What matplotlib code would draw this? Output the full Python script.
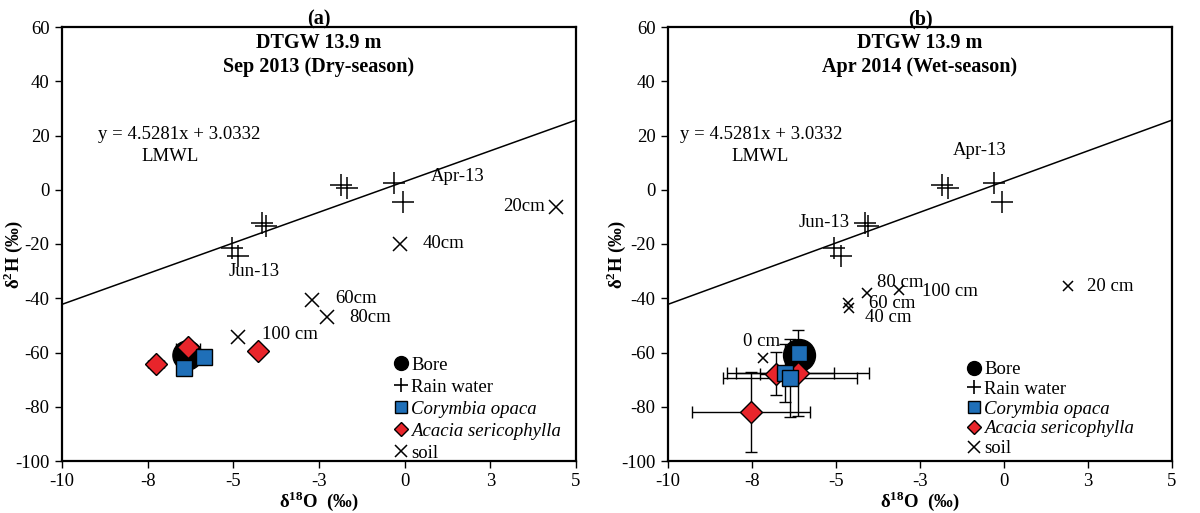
import matplotlib
matplotlib.use('Agg')
import matplotlib.pyplot as plt
from matplotlib.lines import Line2D

plt.rcParams['font.family'] = ['Liberation Serif', 'DejaVu Serif']
plt.rcParams['font.size'] = 13.5
plt.rcParams['axes.unicode_minus'] = False
plt.rcParams['mathtext.fontset'] = 'custom'
plt.rcParams['mathtext.rm'] = 'Liberation Serif'
plt.rcParams['mathtext.bf'] = 'Liberation Serif:bold'

# LMWL regression (as printed on the chart)
lmwl_slope = 4.5281
lmwl_icpt = 3.0332
lmwl_x = [-10, 5]

# rain water (same in both panels)
rain_x = [-1.85, -1.68, -0.3, -0.05, -4.15, -4.05, -5.05, -4.85]
rain_y = [1.8, 0.5, 2.6, -4.5, -12.2, -13.5, -21.5, -24.3]

# panel (a) Sep 2013
a_bore_x = [-6.35]
a_bore_y = [-60.8]
a_cor_x = [-5.86, -6.44]
a_cor_y = [-61.6, -65.6]
a_aca_x = [-7.26, -6.32, -4.28]
a_aca_y = [-64.2, -57.9, -59.4]
a_aca_xerr = [0.23, 0.36, 0.0]
a_soil_x = [4.42, -0.14, -2.70, -2.27, -4.86]
a_soil_y = [-6.3, -19.9, -40.6, -46.8, -54.2]

# panel (b) Apr 2014
b_bore_x = [-6.1]
b_bore_y = [-60.8]
b_cor_x = [-6.1, -6.52, -6.37]
b_cor_y = [-60.2, -67.5, -69.3]
b_cor_xerr = [0.3, 1.47, 2.0]
b_cor_yerr = [3.0, 10.7, 14.3]
b_aca_x = [-6.79, -6.13, -7.53]
b_aca_y = [-67.8, -67.5, -81.8]
b_aca_xerr = [0.47, 2.1, 1.77]
b_aca_yerr = [8.0, 15.8, 14.7]
b_soil_x = [1.9, -4.61, -4.64, -4.08, -3.13, -7.17]
b_soil_y = [-35.4, -43.5, -41.7, -38.0, -36.9, -62.0]

xticks = [-10, -7.5, -5, -2.5, 0, 2.5, 5]
xtick_labels = ['-10', '-8', '-5', '-3', '0', '3', '5']
yticks = [-100, -80, -60, -40, -20, 0, 20, 40, 60]

blue = '#1f6fb8'
red = '#e8252b'

fig = plt.figure(figsize=(12, 5.13), dpi=100)
ax_a = fig.add_axes([62 / 1200, 1 - 461 / 513, 514 / 1200, 434 / 513])
ax_b = fig.add_axes([668 / 1200, 1 - 461 / 513, 504 / 1200, 434 / 513])


def setup(ax, tag, season, ylab_x):
    ax.set_xlim(-10, 5)
    ax.set_ylim(-100, 60)
    ax.set_xticks(xticks)
    ax.set_xticklabels(xtick_labels)
    ax.set_yticks(yticks)
    ax.tick_params(direction='out', length=5, width=1, labelsize=13.5, pad=4)
    for s in ax.spines.values():
        s.set_linewidth(1.6)
    ax.plot(lmwl_x, [lmwl_slope * v + lmwl_icpt for v in lmwl_x],
            color='black', lw=1.1, zorder=1)
    ax.set_xlabel(r'δ$^{\mathbf{18}}$O  (‰)', fontweight='bold', fontsize=13.5, labelpad=-1)
    ax.set_ylabel(r'δ$^{\mathbf{2}}$H (‰)', fontweight='bold', fontsize=13.5)
    ax.yaxis.set_label_coords(ylab_x, 0.475)
    ax.text(0.5, 0.995, tag, transform=ax.transAxes, ha='center', va='bottom',
            fontweight='bold', fontsize=14.5)
    ax.text(0.5, 0.962, 'DTGW 13.9 m', transform=ax.transAxes, ha='center', va='center',
            fontweight='bold', fontsize=14.5)
    ax.text(0.5, 0.908, season, transform=ax.transAxes, ha='center', va='center',
            fontweight='bold', fontsize=14.5)


def legend(ax, x0, y0, spacing):
    handles = [
        Line2D([], [], ls='none', marker='o', ms=10, mfc='black', mec='black'),
        Line2D([], [], ls='none', marker='+', ms=10, mew=1.2, color='black'),
        Line2D([], [], ls='none', marker='s', ms=9, mfc=blue, mec='black', mew=1),
        Line2D([], [], ls='none', marker='D', ms=7, mfc=red, mec='black', mew=1),
        Line2D([], [], ls='none', marker='x', ms=9, mew=1.1, color='black'),
    ]
    labels = ['Bore', 'Rain water', 'Corymbia opaca', 'Acacia sericophylla', 'soil']
    leg = ax.legend(handles, labels, loc='upper left', bbox_to_anchor=(x0, y0),
                    frameon=False, handlelength=0.7, handletextpad=0.2,
                    labelspacing=spacing, borderpad=0, fontsize=13.5)
    for t in leg.get_texts()[2:4]:
        t.set_style('italic')


# ---- panel (a)
ax = ax_a
setup(ax, '(a)', 'Sep 2013 (Dry-season)', -0.072)
ax.plot(rain_x, rain_y, ls='none', marker='+', ms=16, mew=1.1, color='black', zorder=3)
ax.plot(a_bore_x, a_bore_y, ls='none', marker='o', ms=21, color='black', zorder=4)
ax.errorbar(a_aca_x, a_aca_y, xerr=a_aca_xerr, fmt='none', ecolor='black',
            elinewidth=1, capsize=3, zorder=4)
ax.plot(a_aca_x, a_aca_y, ls='none', marker='D', ms=11, mfc=red, mec='black',
        mew=1, zorder=5)
ax.plot(a_cor_x, a_cor_y, ls='none', marker='s', ms=12, mfc=blue, mec='black',
        mew=1, zorder=6)
ax.plot(a_soil_x, a_soil_y, ls='none', marker='x', ms=10, mew=1.1, color='black', zorder=3)
ax.text(4.1, -6.3, '20cm', ha='right', va='center')
ax.text(0.53, -20.0, '40cm', ha='left', va='center')
ax.text(-2.03, -40.0, '60cm', ha='left', va='center')
ax.text(-1.63, -47.0, '80cm', ha='left', va='center')
ax.text(-4.16, -53.5, '100 cm', ha='left', va='center')
ax.text(0.75, 4.8, 'Apr-13', ha='left', va='center')
ax.text(-5.15, -30.2, 'Jun-13', ha='left', va='center')
ax.text(-8.95, 20.5, 'y = 4.5281x + 3.0332', ha='left', va='center')
ax.text(-6.85, 12.3, 'LMWL', ha='center', va='center')
legend(ax, 0.628, 0.262, 0.26)

# ---- panel (b)
ax = ax_b
setup(ax, '(b)', 'Apr 2014 (Wet-season)', -0.079)
ax.plot(rain_x, rain_y, ls='none', marker='+', ms=16, mew=1.1, color='black', zorder=3)
ax.plot(b_soil_x, b_soil_y, ls='none', marker='x', ms=7, mew=1.1, color='black', zorder=3)
ax.errorbar(b_aca_x, b_aca_y, xerr=b_aca_xerr, yerr=b_aca_yerr, fmt='none',
            ecolor='black', elinewidth=1, capsize=4, zorder=2)
ax.errorbar(b_cor_x, b_cor_y, xerr=b_cor_xerr, yerr=b_cor_yerr, fmt='none',
            ecolor='black', elinewidth=1, capsize=4, zorder=2)
ax.plot(b_bore_x, b_bore_y, ls='none', marker='o', ms=23, color='black', zorder=4)
ax.plot(b_aca_x, b_aca_y, ls='none', marker='D', ms=11, mfc=red, mec='black',
        mew=1, zorder=5)
ax.plot(b_cor_x, b_cor_y, ls='none', marker='s', ms=11.5, mfc=blue, mec='black',
        mew=1, zorder=6)
ax.text(2.47, -35.8, '20 cm', ha='left', va='center')
ax.text(-4.14, -47.2, '40 cm', ha='left', va='center')
ax.text(-4.02, -42.0, '60 cm', ha='left', va='center')
ax.text(-3.78, -34.3, '80 cm', ha='left', va='center')
ax.text(-2.44, -37.6, '100 cm', ha='left', va='center')
ax.text(-6.67, -56.0, '0 cm', ha='right', va='center')
ax.text(-0.71, 14.4, 'Apr-13', ha='center', va='center')
ax.text(-4.58, -12.2, 'Jun-13', ha='right', va='center')
ax.text(-9.65, 20.5, 'y = 4.5281x + 3.0332', ha='left', va='center')
ax.text(-7.25, 12.3, 'LMWL', ha='center', va='center')
legend(ax, 0.575, 0.252, 0.14)

fig.savefig('out.png', dpi=100)
